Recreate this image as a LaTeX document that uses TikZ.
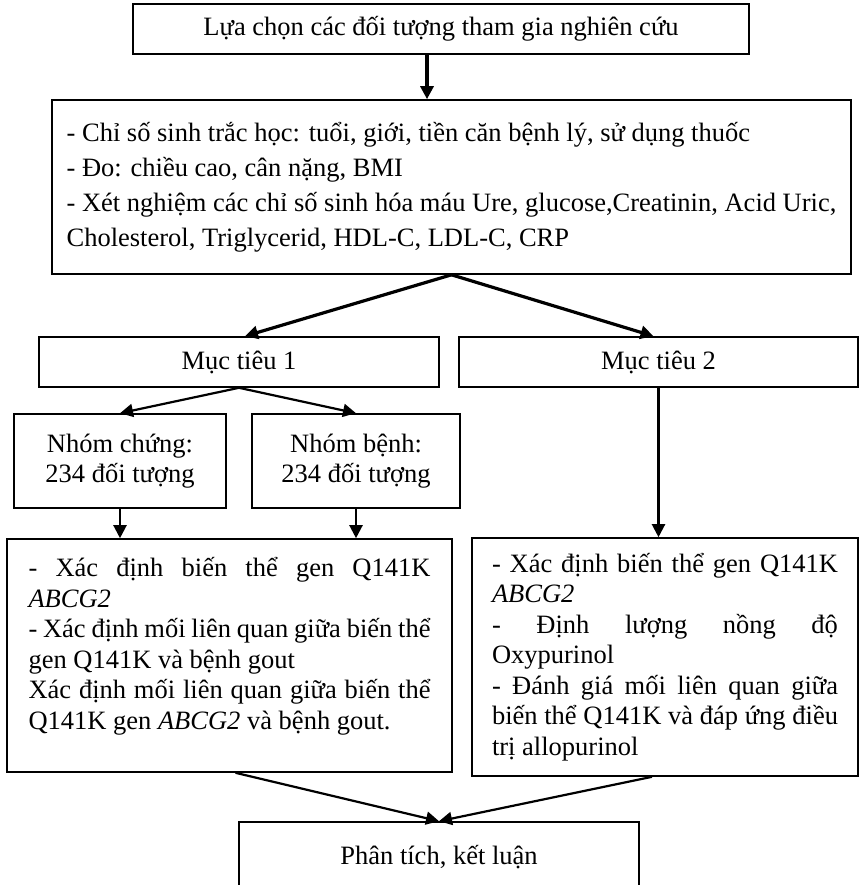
\documentclass[tikz,border=0pt]{standalone}
\usepackage{fontspec}
\setmainfont{Liberation Serif}
\usepackage{tikz}
\usetikzlibrary{arrows.meta,positioning}
\hbadness=10000

\begin{document}
\begin{tikzpicture}[
  x=1pt,y=-1pt,
  font=\fontsize{26.5}{30.5}\selectfont,
  box/.style={draw,line width=1.6pt,inner sep=0pt,align=center},
  list/.style={box,align=justify},
  ar/.style={-{Triangle[length=13pt,width=13pt]},line width=2.2pt},
  arthick/.style={ar,line width=3.2pt}
]
\useasboundingbox (0,0) rectangle (860,885);
\node[box,minimum width=616pt,minimum height=50pt] (chon) at (441,29)
  {Lựa chọn các đối tượng tham gia nghiên cứu};
\node[box,align=left,minimum width=799pt,minimum height=174pt,
      font=\fontsize{26.5}{35}\selectfont] (chiso) at (451.5,187)
  {- Chỉ số sinh trắc học: tuổi, giới, tiền căn bệnh lý, sử dụng thuốc\\
   - Đo: chiều cao, cân nặng, BMI\\
   - Xét nghiệm các chỉ số sinh hóa máu Ure, glucose,Creatinin, Acid Uric,\\
   Cholesterol, Triglycerid, HDL-C, LDL-C, CRP};
\node[box,minimum width=400pt,minimum height=50pt] (mt1) at (239,362) {Mục tiêu 1};
\node[box,minimum width=399pt,minimum height=50pt] (mt2) at (658.5,362) {Mục tiêu 2};
\node[box,minimum width=212pt,minimum height=94pt] (chung) at (120,461)
  {Nhóm chứng:\\ 234 đối tượng};
\node[box,minimum width=208pt,minimum height=94pt] (benh) at (356,461)
  {Nhóm bệnh:\\ 234 đối tượng};
\node[list,text width=402pt,minimum width=445pt,minimum height=233pt] (kq1) at (229.5,655.5)
  {- Xác định biến thể gen Q141K\linebreak \textit{ABCG2}\\
   - Xác định mối liên quan giữa biến thể\linebreak gen Q141K và bệnh gout\\
   Xác định mối liên quan giữa biến thể\linebreak Q141K gen \textit{ABCG2} và bệnh gout.\par
   \vspace*{18pt}\hrule height 0pt width 0pt};
\node[list,text width=346pt,minimum width=386pt,minimum height=238pt] (kq2) at (665,657)
  {- Xác định biến thể gen Q141K\linebreak \textit{ABCG2}\\
   - Định lượng nồng độ\linebreak Oxypurinol\\
   - Đánh giá mối liên quan giữa\linebreak biến thể Q141K và đáp ứng điều\linebreak trị allopurinol};
\node[box,minimum width=400pt,minimum height=70pt] (ketluan) at (439,857) {Phân tích, kết luận};

\draw[arthick] ([xshift=-14pt]chon.south) -- ([xshift=-24.5pt]chiso.north);
\draw[arthick] (chiso.south) -- ([xshift=6pt]mt1.north);
\draw[arthick] (chiso.south) -- ([xshift=-5pt]mt2.north);
\draw[ar] (mt1.south) -- (chung.north);
\draw[ar] (mt1.south) -- (benh.north);
\draw[ar] (chung.south) -- (chung.south |- kq1.north);
\draw[ar] (benh.south) -- (benh.south |- kq1.north);
\draw[ar] (mt2.south) -- (mt2.south |- kq2.north);
\draw[ar] ([xshift=6pt]kq1.south) -- (ketluan.north);
\draw[ar] ([xshift=-13pt]kq2.south) -- (ketluan.north);
\end{tikzpicture}
\end{document}
